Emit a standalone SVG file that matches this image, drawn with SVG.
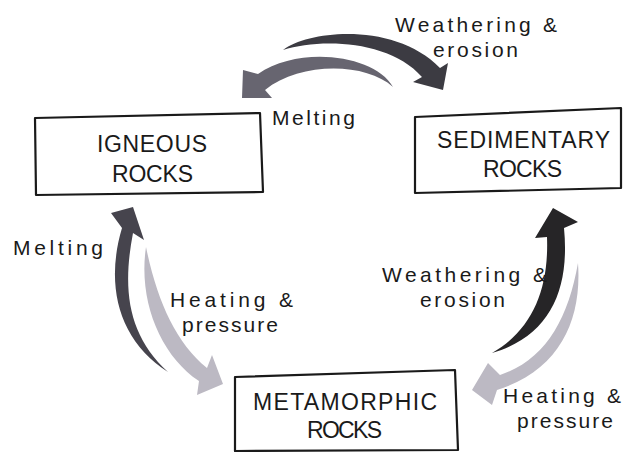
<svg xmlns="http://www.w3.org/2000/svg" width="626" height="452" viewBox="0 0 626 452">
<style>
.box{fill:#ffffff;stroke:#1a1a1a;stroke-width:2.2;stroke-linejoin:round}
.bt{font-family:"Liberation Sans","DejaVu Sans",sans-serif;font-size:23px;fill:#1a1a1a}
.lb{font-family:"Liberation Sans","DejaVu Sans",sans-serif;font-size:21px;fill:#1a1a1a}
.dk1{fill:#3c3b42}
.md{fill:#676570}
.dk2{fill:#46444d}
.lt{fill:#bcb9c3}
.dk3{fill:#262527}
</style>
<rect width="626" height="452" fill="#ffffff"/>
<g id="connectors">
<path id="arrow-weathering-top" class="dk1" d="M283,50 C310,30 395,22 440,68 L448,63 L443,90 L413,82 L422,77 C390,40 320,38 283,50 Z"/>
<path id="arrow-melting-top" class="md" d="M393,87 C375,55 300,45 258,74 L243,70 L242,98 L272,98 L265,90 C300,62 365,62 393,87 Z"/>
<path id="arrow-melting-left" class="dk2" d="M168,372 C118,340 105,285 122,228 L111,213 L133,207 L144,240 L133,233 C122,290 128,335 168,372 Z"/>
<path id="arrow-heating-left" class="lt" d="M146,247 C138,300 160,355 199,381 L197,395 L223,384 L212,355 L207,368 C175,342 157,300 146,247 Z"/>
<path id="arrow-weathering-right" class="dk3" d="M492,353 C532,330 549,290 547,237 L535,238 L553,208 L578,222 L564,228 C570,290 550,336 492,353 Z"/>
<path id="arrow-heating-right" class="lt" d="M578,263 C582,320 560,370 497,390 L492,405 L472,390 L488,363 L500,375 C545,360 568,320 578,263 Z"/>
</g>
<g id="igneous">
<polygon class="box" points="35,118 260,113 263,192 36,195"/>
<text class="bt" x="97" y="152" textLength="110">IGNEOUS</text>
<text class="bt" x="112" y="182" textLength="81">ROCKS</text>
</g>
<g id="sedimentary">
<polygon class="box" points="415,117 621,108 621,188 415,193"/>
<text class="bt" x="437" y="148" textLength="173">SEDIMENTARY</text>
<text class="bt" x="483" y="177" textLength="79">ROCKS</text>
</g>
<g id="metamorphic">
<polygon class="box" points="235,377 455,370 458,450 235,451"/>
<text class="bt" x="253" y="410" textLength="184">METAMORPHIC</text>
<text class="bt" x="307" y="438" textLength="75">ROCKS</text>
</g>
<g id="labels">
<text class="lb" x="395" y="32" textLength="162">Weathering &amp;</text>
<text class="lb" x="433" y="57" textLength="85">erosion</text>
<text class="lb" x="272" y="125" textLength="83">Melting</text>
<text class="lb" x="13" y="255" textLength="90">Melting</text>
<text class="lb" x="170" y="307" textLength="123">Heating &amp;</text>
<text class="lb" x="182" y="332" textLength="96">pressure</text>
<text class="lb" x="382" y="282" textLength="165">Weathering &amp;</text>
<text class="lb" x="420" y="307" textLength="85">erosion</text>
<text class="lb" x="503" y="403" textLength="118">Heating &amp;</text>
<text class="lb" x="517" y="428" textLength="96">pressure</text>
</g>
</svg>
